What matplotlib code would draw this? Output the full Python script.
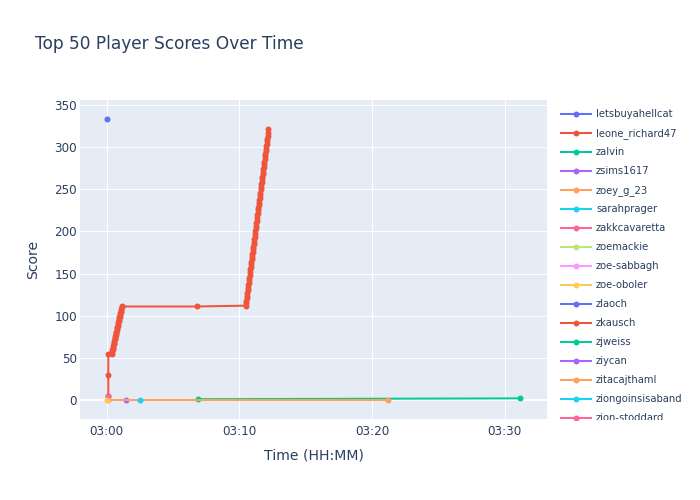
import matplotlib
matplotlib.use('Agg')
import matplotlib.pyplot as plt
import matplotlib.dates as mdates
import pandas as pd

# players as listed in the legend (only the first ones fit in the box)
players = ['letsbuyahellcat', 'leone_richard47', 'zalvin', 'zsims1617', 'zoey_g_23',
           'sarahprager', 'zakkcavaretta', 'zoemackie', 'zoe-sabbagh', 'zoe-oboler',
           'zlaoch', 'zkausch', 'zjweiss', 'ziycan', 'zitacajthaml',
           'ziongoinsisaband', 'zion-stoddard']

# times are seconds after 03:00:00
letsbuyahellcat_t = [0]
letsbuyahellcat_s = [333]

leone_t = [7, 7, 7,
           22, 23.5, 25, 26.5, 28, 29.5, 31, 32.5, 34, 35.5, 37, 38.5, 40, 41.5,
           43, 44.5, 46, 47.5, 49, 50.5, 52, 53.5, 55, 56.5, 58, 59.5, 61, 62.5,
           64, 65.5, 67, 68,
           407,
           629, 630.5, 632, 633.5, 635, 636.5, 638, 639.5, 641, 642.5, 644, 645.5,
           647, 648.5, 650, 651.5, 653, 654.5, 656, 657.5, 659, 660.5, 662, 663.5,
           665, 666.5, 668, 669.5, 671, 672.5, 674, 675.5, 677, 678.5, 680, 681.5,
           683, 684.5, 686, 687.5, 689, 690.5, 692, 693.5, 695, 696.5, 698, 699.5,
           701, 702.5, 704, 705.5, 707, 708.5, 710, 711.5, 713, 714.5, 716, 717.5,
           719, 720.5, 722, 723.5, 725, 726.5, 728, 729.5, 731]
leone_s = [5, 30, 55,
           55, 57, 59, 61, 62, 64, 66, 68, 70, 72, 74, 76, 77, 79,
           81, 83, 85, 87, 88, 90, 92, 94, 96, 98, 99, 101, 103, 105,
           106, 108, 110, 111,
           111,
           112, 115, 118, 121, 124, 127, 130, 133, 136, 139, 142, 145,
           148, 152, 155, 158, 161, 164, 167, 170, 173, 176, 179, 182,
           185, 188, 191, 194, 197, 200, 204, 207, 210, 213, 216, 219,
           222, 225, 228, 231, 234, 237, 240, 243, 246, 250, 253, 256,
           259, 262, 265, 268, 271, 274, 277, 280, 283, 286, 289, 292,
           295, 298, 301, 304, 307, 310, 313, 317, 321]

zalvin_t = [412, 1870]
zalvin_s = [1, 2]

zsims1617_t = [86]
zsims1617_s = [0]

zoey_t = [7, 1273]
zoey_s = [0, 0]

sarahprager_t = [152]
sarahprager_s = [0]

zakkcavaretta_t = [4]
zakkcavaretta_s = [5]

zoe_oboler_t = [3]
zoe_oboler_s = [0]

series = {
    'letsbuyahellcat': (letsbuyahellcat_t, letsbuyahellcat_s),
    'leone_richard47': (leone_t, leone_s),
    'zalvin': (zalvin_t, zalvin_s),
    'zsims1617': (zsims1617_t, zsims1617_s),
    'zoey_g_23': (zoey_t, zoey_s),
    'sarahprager': (sarahprager_t, sarahprager_s),
    'zakkcavaretta': (zakkcavaretta_t, zakkcavaretta_s),
    'zoe-oboler': (zoe_oboler_t, zoe_oboler_s),
}

colors = ['#636EFA', '#EF553B', '#00CC96', '#AB63FA', '#FFA15A',
          '#19D3F3', '#FF6692', '#B6E880', '#FF97FF', '#FECB52']
txt = '#2a3f5f'
start = pd.Timestamp('2024-01-01 03:00:00')

plt.rcParams['font.family'] = ['DejaVu Sans']

fig = plt.figure(figsize=(7, 5), dpi=100)
ax = fig.add_axes([80 / 700, 81 / 500, 467 / 700, 319 / 500])
ax.set_facecolor('#E5ECF6')
for sp in ax.spines.values():
    sp.set_visible(False)
ax.grid(True, color='white', linewidth=0.75)
ax.set_axisbelow(True)
ax.axhline(0, color='white', linewidth=1.5, zorder=1)

for i, name in enumerate(players):
    if name not in series:
        continue
    t, s = series[name]
    x = start + pd.to_timedelta(t, unit='s')
    ax.plot(x, s, color=colors[i % 10], linewidth=1.45, marker='o',
            markersize=4.3, markeredgewidth=0, zorder=2)

ax.set_xlim(start - pd.Timedelta(seconds=121), start + pd.Timedelta(seconds=1992))
ax.set_ylim(-22.5, 356)
ax.set_yticks([0, 50, 100, 150, 200, 250, 300, 350])
ax.xaxis.set_major_locator(mdates.MinuteLocator(byminute=[0, 10, 20, 30]))
ax.xaxis.set_major_formatter(mdates.DateFormatter('%H:%M'))
ax.tick_params(length=0, labelsize=8.64, labelcolor=txt)
ax.tick_params(axis='y', pad=2)
ax.tick_params(axis='x', pad=4)

ax.set_xlabel('Time (HH:MM)', fontsize=10.08, color=txt, va='center')
ax.xaxis.set_label_coords(0.5, -0.115)
ax.set_ylabel('Score', fontsize=10.08, color=txt, va='center')
ax.yaxis.set_label_coords(-0.101, 0.5)

fig.text(35 / 700, 1 - 44 / 500, 'Top 50 Player Scores Over Time',
         fontsize=12.24, color=txt, va='center', ha='left')

# legend box, clipped at the bottom like the scrolling one
lg = fig.add_axes([550 / 700, 80 / 500, 150 / 700, 320 / 500])
lg.set_xlim(550, 700)
lg.set_ylim(420, 100)
lg.axis('off')
for i, name in enumerate(players):
    y = 114.3 + 19 * i
    c = colors[i % 10]
    lg.plot([561, 576, 591], [y, y, y], color=c, linewidth=1.45, marker='o',
            markersize=4.3, markeredgewidth=0, markevery=[1], clip_on=True)
    lg.text(596, y, name, fontsize=7.2, color=txt, va='center', ha='left',
            clip_on=True)

fig.savefig('out.png', dpi=100)
